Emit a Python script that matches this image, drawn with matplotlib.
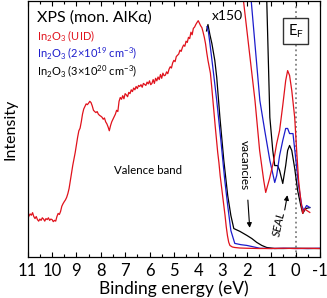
import matplotlib
matplotlib.use("Agg")
import matplotlib.pyplot as plt
import numpy as np

plt.rcParams['font.family'] = ['Lato', 'DejaVu Sans']
plt.rcParams['mathtext.fontset'] = 'custom'
plt.rcParams['mathtext.rm'] = 'Lato'
plt.rcParams['mathtext.it'] = 'Lato:italic'

# valence band, x1 (UID sample covers the whole range)
e_red = [11.00, 10.95, 10.90, 10.85, 10.80, 10.75, 10.70, 10.65, 10.60, 10.55, 10.50, 10.45, 10.40,
         10.35, 10.30, 10.25, 10.20, 10.15, 10.10, 10.05, 10.00, 9.95, 9.90, 9.85, 9.80, 9.75, 9.70,
         9.65, 9.60, 9.55, 9.50, 9.45, 9.40, 9.35, 9.30, 9.25, 9.20, 9.15, 9.10, 9.05, 9.00, 8.95,
         8.90, 8.85, 8.80, 8.75, 8.70, 8.65, 8.60, 8.55, 8.50, 8.45, 8.40, 8.35, 8.30, 8.25, 8.20,
         8.15, 8.10, 8.05, 8.00, 7.95, 7.90, 7.85, 7.80, 7.75, 7.70, 7.65, 7.60, 7.55, 7.50, 7.45,
         7.40, 7.35, 7.30, 7.25, 7.20, 7.15, 7.10, 7.05, 7.00, 6.95, 6.90, 6.85, 6.80, 6.75, 6.70,
         6.65, 6.60, 6.55, 6.50, 6.45, 6.40, 6.35, 6.30, 6.25, 6.20, 6.15, 6.10, 6.05, 6.00, 5.95,
         5.90, 5.85, 5.80, 5.75, 5.70, 5.65, 5.60, 5.55, 5.50, 5.45, 5.40, 5.35, 5.30, 5.25, 5.20,
         5.15, 5.10, 5.05, 5.00, 4.95, 4.90, 4.85, 4.80, 4.75, 4.70, 4.65, 4.60, 4.55, 4.50, 4.45,
         4.40, 4.35, 4.30, 4.25, 4.20, 4.15, 4.10, 4.05, 4.00, 3.95, 3.90, 3.85, 3.80, 3.75, 3.70,
         3.65, 3.60, 3.55, 3.50, 3.45, 3.40, 3.35, 3.30, 3.25, 3.20, 3.15, 3.10, 3.05, 3.00, 2.95,
         2.90, 2.85, 2.80, 2.75, 2.70, 2.60, 2.50, 2.30, 2.00, 1.50, 1.00, 0.50, 0.00, -0.50, -1.00]
i_red = [0.150, 0.162, 0.170, 0.165, 0.175, 0.160, 0.152, 0.160, 0.148, 0.142, 0.150, 0.145, 0.155,
         0.150, 0.142, 0.152, 0.148, 0.155, 0.145, 0.150, 0.148, 0.140, 0.145, 0.142, 0.160, 0.172, 0.168,
         0.180, 0.200, 0.210, 0.218, 0.225, 0.235, 0.250, 0.270, 0.300, 0.330, 0.360, 0.385, 0.410, 0.440, 0.470,
         0.495, 0.505, 0.530, 0.560, 0.580, 0.590, 0.600, 0.597, 0.603, 0.610, 0.605, 0.592, 0.575, 0.570, 0.566,
         0.570, 0.560, 0.555, 0.552, 0.548, 0.540, 0.545, 0.530, 0.522, 0.510, 0.495, 0.515, 0.530, 0.540, 0.550,
         0.560, 0.575, 0.570, 0.610, 0.625, 0.618, 0.632, 0.620, 0.640, 0.635, 0.628, 0.645, 0.640, 0.655, 0.648,
         0.662, 0.655, 0.668, 0.660, 0.672, 0.668, 0.675, 0.665, 0.680, 0.676, 0.672, 0.685, 0.678, 0.690, 0.675,
         0.680, 0.695, 0.680, 0.700, 0.690, 0.705, 0.695, 0.715, 0.700, 0.720, 0.710, 0.712, 0.725, 0.718, 0.735,
         0.745, 0.740, 0.760, 0.770, 0.765, 0.785, 0.790, 0.795, 0.810, 0.805, 0.820, 0.830, 0.825, 0.845, 0.840,
         0.860, 0.855, 0.880, 0.870, 0.895, 0.900, 0.910, 0.918, 0.925, 0.915, 0.905, 0.898, 0.880, 0.860, 0.835,
         0.800, 0.770, 0.745, 0.720, 0.670, 0.615, 0.560, 0.510, 0.460, 0.410, 0.370, 0.320, 0.280, 0.240, 0.203,
         0.165, 0.120, 0.085, 0.060, 0.047, 0.041, 0.039, 0.037, 0.036, 0.035, 0.035, 0.036, 0.035, 0.036, 0.035]

e_blue = [3.64, 3.58, 3.52, 3.40, 3.24, 3.07, 2.91, 2.79, 2.66, 2.50, 2.25, 2.00, 1.47, 1.00, 0.50, 0.00, -0.50, -1.00]
i_blue = [0.902, 0.880, 0.836, 0.742, 0.613, 0.457, 0.301, 0.203, 0.105, 0.055, 0.050, 0.047, 0.036, 0.035, 0.036, 0.035, 0.035, 0.036]

e_black = [3.66, 3.60, 3.52, 3.44, 3.32, 3.24, 3.11, 2.95, 2.79, 2.66, 2.54, 2.29, 2.00, 1.80, 1.60, 1.39, 1.19, 0.86, 0.50, 0.00, -0.50, -1.00]
i_black = [0.885, 0.910, 0.870, 0.836, 0.770, 0.703, 0.547, 0.379, 0.242, 0.164, 0.113, 0.102, 0.086, 0.074, 0.059, 0.047, 0.039, 0.035, 0.035, 0.036, 0.035, 0.035]

# gap region, x150
e_red150 = [2.20, 1.67, 1.48, 1.31, 1.23, 1.07, 0.90, 0.78, 0.66, 0.53, 0.41, 0.33, 0.25, 0.16, 0.04, -0.04, -0.12, -0.21, -0.29, -0.37, -0.45, -0.58]
i_red150 = [1.05, 0.613, 0.418, 0.300, 0.254, 0.309, 0.379, 0.445, 0.496, 0.594, 0.691, 0.730, 0.711, 0.652, 0.547, 0.418, 0.301, 0.223, 0.172, 0.191, 0.184, 0.176]

e_blue150 = [1.85, 1.47, 1.27, 1.06, 0.86, 0.78, 0.66, 0.53, 0.41, 0.33, 0.25, 0.11, -0.01, -0.12, -0.25, -0.33, -0.45, -0.58]
i_blue150 = [1.03, 0.613, 0.496, 0.379, 0.293, 0.320, 0.398, 0.457, 0.504, 0.504, 0.484, 0.484, 0.379, 0.281, 0.203, 0.184, 0.203, 0.195]

e_black150 = [1.20, 1.06, 0.94, 0.86, 0.74, 0.66, 0.53, 0.41, 0.33, 0.25, 0.16, 0.04, -0.08, -0.21, -0.29, -0.41, -0.58]
i_black150 = [1.05, 0.547, 0.418, 0.359, 0.359, 0.340, 0.289, 0.359, 0.418, 0.4375, 0.418, 0.348, 0.262, 0.203, 0.172, 0.191, 0.195]

red = '#e0121c'
blue = '#1c1ccc'
black = '#000000'

fig = plt.figure(figsize=(3.27, 2.98), dpi=100)
ax = fig.add_axes([0.0847, 0.136, 0.894, 0.859])

ax.axvline(0, color='#808080', ls=':', lw=1.3, zorder=1)

lw = 0.9
ax.plot(e_black, i_black, color=black, lw=lw)
ax.plot(e_blue, i_blue, color=blue, lw=lw)
ax.plot(e_red, i_red, color=red, lw=lw)
ax.plot(e_black150, i_black150, color=black, lw=lw)
ax.plot(e_blue150, i_blue150, color=blue, lw=lw)
ax.plot(e_red150, i_red150, color=red, lw=lw)

ax.set_xlim(11, -1)
ax.set_ylim(0, 1)
ax.set_xticks(np.arange(11, -2, -1))
ax.set_xticklabels([str(v) for v in range(11, -2, -1)])
ax.set_xticks(np.arange(10.5, -1, -1), minor=True)
ax.set_yticks([])
ax.tick_params(axis='x', which='both', direction='in', top=True, labelsize=12, pad=4)
ax.tick_params(axis='x', which='major', length=3.5, width=0.8)
ax.tick_params(axis='x', which='minor', length=2.5, width=0.8)
for s in ax.spines.values():
    s.set_linewidth(0.9)

ax.set_xlabel('Binding energy (eV)', fontsize=12.5, labelpad=1)
ax.set_ylabel('Intensity', fontsize=11.5, labelpad=7)

ax.text(10.62, 0.937, 'XPS (mon. AlK\u03b1)', fontsize=11.5, va='center', ha='left')
ax.text(10.62, 0.863, r'In$_2$O$_3$ (UID)', fontsize=8, color=red, va='center', ha='left')
ax.text(10.62, 0.797, r'In$_2$O$_3$ (2$\times$10$^{19}$ cm$^{-3}$)', fontsize=8, color=blue, va='center', ha='left')
ax.text(10.62, 0.730, r'In$_2$O$_3$ (3$\times$10$^{20}$ cm$^{-3}$)', fontsize=8, color=black, va='center', ha='left')

ax.text(2.82, 0.945, 'x150', fontsize=10, ha='center', va='center')
ax.text(0, 0.885, r'E$_\mathrm{F}$', fontsize=10.5, ha='center', va='center',
        bbox=dict(boxstyle='square,pad=0.3', fc='white', ec='#333333', lw=1.0))
ax.text(6.06, 0.34, 'Valence band', fontsize=8.3, ha='center', va='center')

ax.text(2.12, 0.36, 'vacancies', fontsize=8.5, ha='center', va='center', rotation=270)
ax.annotate('', xy=(1.88, 0.105), xytext=(1.97, 0.235),
            arrowprops=dict(arrowstyle='-|>', color='black', lw=0.8, mutation_scale=7))
ax.text(0.68, 0.13, 'SEAL', fontsize=8.5, ha='center', va='center', rotation=78, style='italic')
ax.annotate('', xy=(0.32, 0.254), xytext=(0.47, 0.175),
            arrowprops=dict(arrowstyle='-|>', color='black', lw=0.8, mutation_scale=7))

fig.savefig('out.png', dpi=100)
